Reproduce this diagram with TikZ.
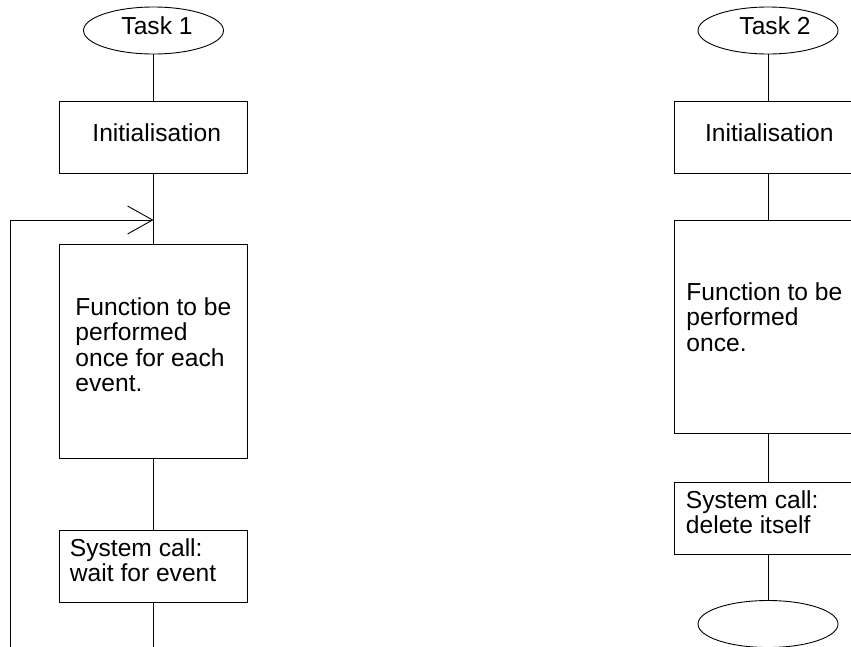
\documentclass[tikz,border=0pt]{standalone}
\usepackage{fontspec}
\setmainfont{Liberation Sans}
\usetikzlibrary{arrows.meta,shapes.geometric}

\begin{document}
\begin{tikzpicture}[x=1pt,y=-1pt,
  line width=0.9pt,
  every node/.style={font=\fontsize{24.6}{25.2}\selectfont, inner sep=0pt},
  terminal/.style={draw, ellipse, minimum width=140pt, minimum height=47pt},
  procbox/.style={draw, rectangle, minimum width=188pt},
  boxtext/.style={anchor=north west, align=left},
  link/.style={draw},
  looparrow/.style={-{Straight Barb[length=25pt,width=28pt]}}
]
\clip (0,0) rectangle (851,646);
\fill[white] (0,0) rectangle (851,646);

% ---- Task 1: event loop ----
\node[terminal] (t1) at (153.5,30.5) {};
\node[anchor=base] (t1txt) at (157,34.5) {Task 1};

\node[procbox, minimum height=72pt] (init1) at (153.5,137) {};
\node[anchor=base] (init1txt) at (156.7,141.7) {Initialisation};

\node[procbox, minimum height=214pt] (func1) at (153.5,351) {};
\node[boxtext] (func1txt) at (75,297.4) {Function to be\\performed\\once for each\\event.};

\node[procbox, minimum height=72pt] (sys1) at (153.5,566) {};
\node[boxtext] (sys1txt) at (69.5,538) {System call:\\wait for event};

\coordinate (loopin) at (153.5,220);
\coordinate (loopstart) at (10,650);
\coordinate (end1) at (153.5,650);

\draw (t1) -- (init1);
\draw (init1) -- (func1);
\draw (func1) -- (sys1);
\draw (sys1) -- (end1);
\draw[looparrow] (loopstart) |- (loopin);

% ---- Task 2: runs once ----
\node[terminal] (t2) at (768,30.5) {};
\node[anchor=base] (t2txt) at (775,34) {Task 2};

\node[procbox, minimum height=72pt] (init2) at (768,137) {};
\node[anchor=base] (init2txt) at (769.3,141.7) {Initialisation};

\node[procbox, minimum height=213pt] (func2) at (768,326.5) {};
\node[boxtext] (func2txt) at (686,282.4) {Function to be\\performed\\once.};

\node[procbox, minimum height=72pt] (sys2) at (768,518) {};
\node[boxtext] (sys2txt) at (685.5,490) {System call:\\delete itself};

\node[terminal] (t2end) at (768,624) {};

\draw (t2) -- (init2);
\draw (init2) -- (func2);
\draw (func2) -- (sys2);
\draw (sys2) -- (t2end);
\end{tikzpicture}
\end{document}
